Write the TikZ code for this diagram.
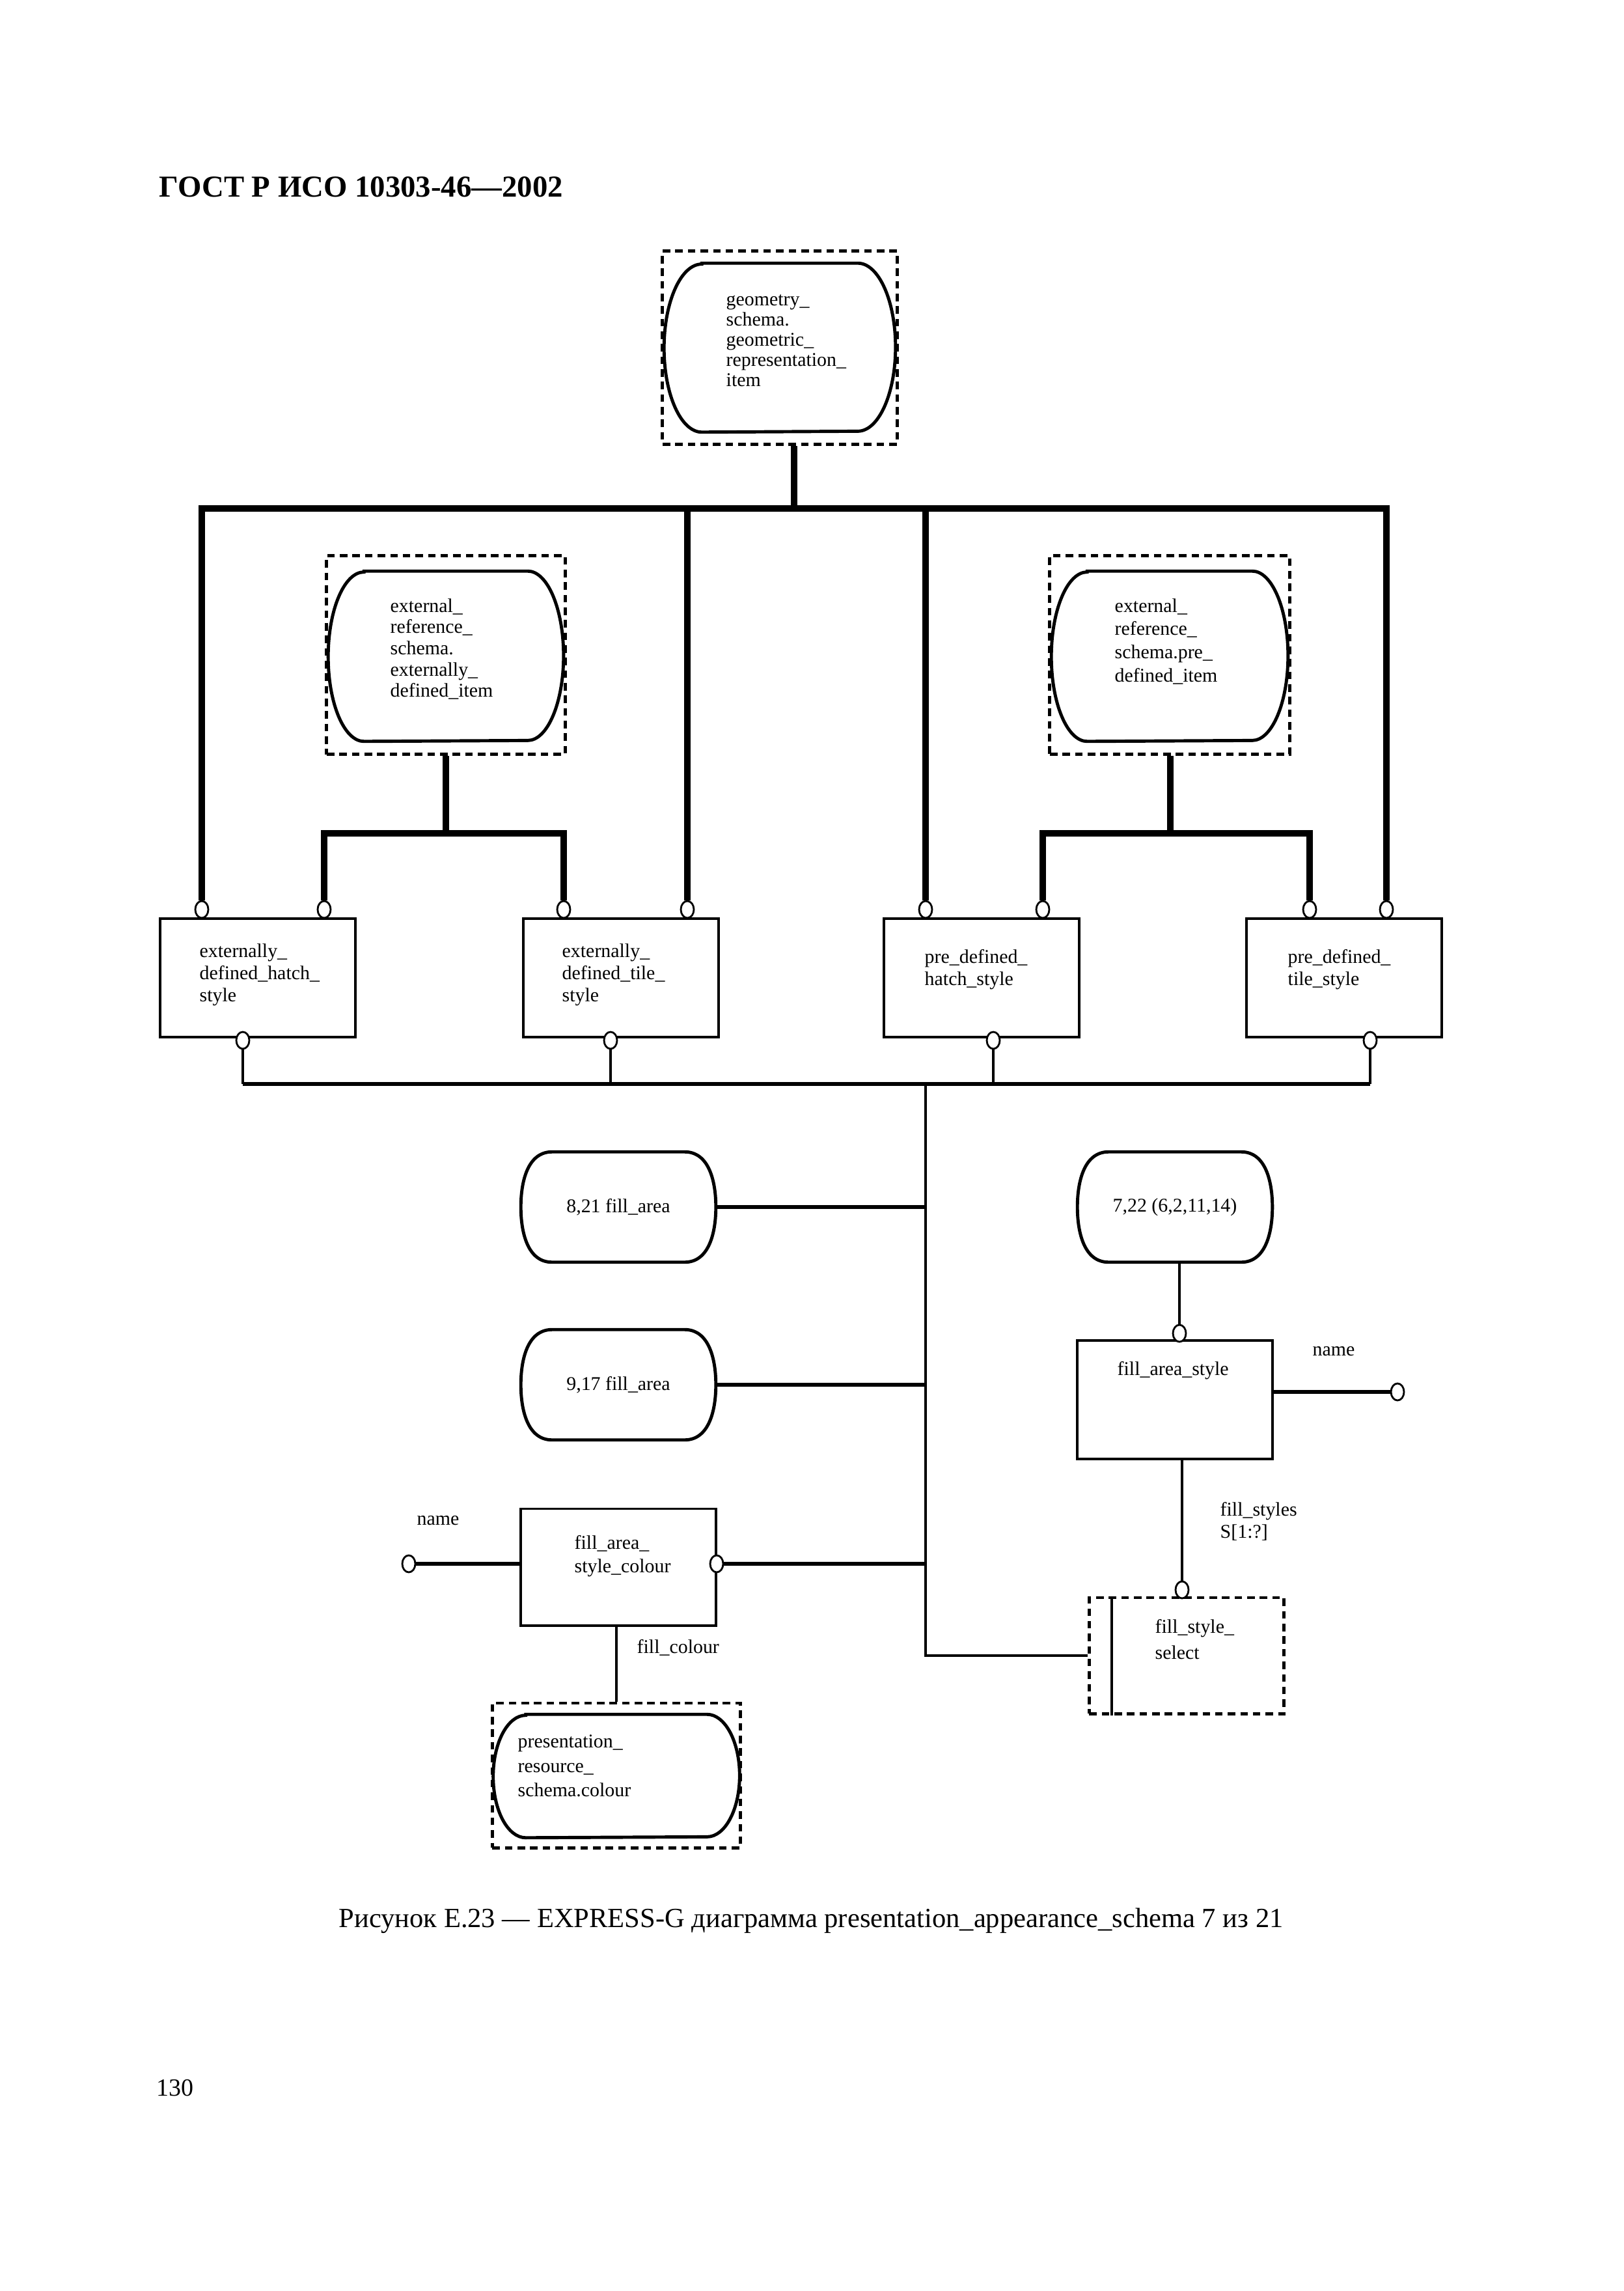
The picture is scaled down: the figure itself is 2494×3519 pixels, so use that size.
\documentclass[tikz,border=0pt]{standalone}
\usepackage{fontspec}
\setmainfont{Liberation Serif}
\usetikzlibrary{shapes,calc,positioning}

\begin{document}
\begin{tikzpicture}[x=0.01cm,y=-0.01cm]
\tikzstyle{ent}=[draw,line width=1.1pt,minimum width=3cm,minimum height=1.82cm,inner sep=0pt]
\tikzstyle{typ}=[inner sep=0pt,minimum width=2.98cm,minimum height=1.68cm,font=\fontsize{8.5}{9.7}\selectfont]
\tikzstyle{dsh}=[draw,line width=1.4pt,dash pattern=on 3.3pt off 2.2pt,inner sep=0pt]
\tikzstyle{rnd}=[line width=1.4pt]
\tikzstyle{lbl}=[inner sep=0pt,anchor=base west,font=\fontsize{8.5}{9.7}\selectfont]
\tikzstyle{txt}=[lbl,text width=3cm,align=left]
\tikzstyle{rel}=[draw,ellipse,line width=0.8pt,fill=white,minimum width=0.2cm,minimum height=0.26cm,inner sep=0pt]
\tikzstyle{bar}=[line width=2.8pt]
\tikzstyle{wire}=[line width=1.7pt]
\tikzstyle{stub}=[line width=1pt]
\fill[white] (0,0) rectangle (2494,3519);
\useasboundingbox (0,0) rectangle (2494,3519);

\node[lbl,font=\fontsize{13.3}{16}\selectfont\bfseries] (head) at (244,303) {ГОСТ Р ИСО 10303-46—2002};

% referenced types in dashed frames
\node[dsh,minimum width=3.6cm,minimum height=2.97cm] (geod) at (1198,534) {};
\node[typ,minimum width=3.54cm,minimum height=2.58cm] (geo) at (1198,534) {};
\node[txt,font=\fontsize{8.5}{8.8}\selectfont] (geot) at (1115,470) {geometry\_\\schema.\\geometric\_\\representation\_\\item};
\node[dsh,minimum width=3.66cm,minimum height=3.05cm] (xld) at (685,1006) {};
\node[typ,minimum width=3.6cm,minimum height=2.6cm] (xl) at (685,1008) {};
\node[txt,font=\fontsize{8.5}{9.3}\selectfont] (xlt) at (599,940) {external\_\\reference\_\\schema.\\externally\_\\defined\_item};
\node[dsh,minimum width=3.68cm,minimum height=3.05cm] (xrd) at (1797,1006) {};
\node[typ,minimum width=3.62cm,minimum height=2.6cm] (xr) at (1797,1008) {};
\node[txt,font=\fontsize{8.5}{10.2}\selectfont] (xrt) at (1712,940) {external\_\\reference\_\\schema.pre\_\\defined\_item};

% style entities
\node[ent] (b1) at (396,1502) {};
\node[txt] (b1t) at (306,1470) {externally\_\\defined\_hatch\_\\style};
\node[ent] (b2) at (954,1502) {};
\node[txt] (b2t) at (863,1470) {externally\_\\defined\_tile\_\\style};
\node[ent] (b3) at (1508,1502) {};
\node[txt] (b3t) at (1420,1479) {pre\_defined\_\\hatch\_style};
\node[ent] (b4) at (2065,1502) {};
\node[txt] (b4t) at (1978,1479) {pre\_defined\_\\tile\_style};

\node[rel] (c11) at (310,1397) {};
\node[rel] (c12) at (498,1397) {};
\node[rel] (c21) at (866,1397) {};
\node[rel] (c22) at (1056,1397) {};
\node[rel] (c31) at (1422,1397) {};
\node[rel] (c32) at (1602,1397) {};
\node[rel] (c41) at (2012,1397) {};
\node[rel] (c42) at (2130,1397) {};
\node[rel] (d1) at (373,1598) {};
\node[rel] (d2) at (938,1598) {};
\node[rel] (d3) at (1526,1598) {};
\node[rel] (d4) at (2105,1598) {};

\coordinate (gbar) at (1220,781);
\coordinate (xlbar) at (685,1280);
\coordinate (xrbar) at (1798,1280);
\coordinate (bus) at (1422,1665);

% page references
\node[typ] (fa1) at (950,1854) {8,21 fill\_area};
\node[typ] (fa2) at (950,2127) {9,17 fill\_area};
\node[typ] (ref) at (1805,1854) {7,22 (6,2,11,14)};

\node[ent] (fas) at (1805,2150) {};
\node[lbl] (fast) at (1716,2112) {fill\_area\_style};
\node[rel] (cf) at (1812,2048) {};
\node[rel] (nm2) at (2147,2138) {};
\node[lbl] (nm2t) at (2016,2082) {name};
\node[txt] (fst) at (1874,2328) {fill\_styles\\S[1:?]};
\node[dsh,minimum width=2.99cm,minimum height=1.78cm] (fss) at (1823,2543) {};
\node[txt,font=\fontsize{8.5}{11.4}\selectfont] (fsst) at (1774,2508) {fill\_style\_\\select};
\node[rel] (cs) at (1816,2442) {};

\node[ent,minimum height=1.79cm] (fasc) at (950,2407) {};
\node[txt,font=\fontsize{8.5}{10.5}\selectfont] (fasct) at (882,2379) {fill\_area\_\\style\_colour};
\node[rel] (nm1) at (628,2402) {};
\node[lbl] (nm1t) at (640,2342) {name};
\node[rel] (fc) at (1101,2402) {};
\node[lbl] (fct) at (978,2539) {fill\_colour};
\node[dsh,minimum width=3.81cm,minimum height=2.22cm] (prcd) at (947,2727) {};
\node[typ,minimum width=3.77cm,minimum height=1.88cm] (prc) at (947,2728) {};
\node[txt,font=\fontsize{8.5}{10.8}\selectfont] (prct) at (795,2684) {presentation\_\\resource\_\\schema.colour};

\foreach \n/\r/\h in {geo/0.58/1.29,xl/0.55/1.3,xr/0.55/1.3,prc/0.5/0.94}
  \draw[rnd] ([xshift=\r cm]\n.north west) -- ([xshift=-\r cm]\n.north east) arc[start angle=90,end angle=-90,x radius=\r cm,y radius=\h cm] -- ([xshift=\r cm]\n.south west) arc[start angle=270,end angle=90,x radius=\r cm,y radius=\h cm] -- cycle;
\foreach \n in {fa1,fa2,ref}
  \draw[rnd] ([shift={(48,0)}]\n.north west) -- ([shift={(-48,0)}]\n.north east) to[out=0,in=90] (\n.east) to[out=-90,in=0] ([shift={(-48,0)}]\n.south east) -- ([shift={(48,0)}]\n.south west) to[out=180,in=-90] (\n.west) to[out=90,in=180] cycle;
\draw[line width=1.1pt] ([shift={(37,0)}]fss.north west) -- ([shift={(37,0)}]fss.south west);

\draw[bar] (gbar |- geod.south) -- (gbar);
\draw[bar] (c11.north) |- (gbar) -| (c42.north);
\draw[bar] (c22.north) |- (gbar) -| (c31.north);
\draw[bar] (xlbar |- xld.south) -- (xlbar);
\draw[bar] (c12.north) |- (xlbar) -| (c21.north);
\draw[bar] (xrbar |- xrd.south) -- (xrbar);
\draw[bar] (c32.north) |- (xrbar) -| (c41.north);

\draw[wire] (d1.south |- bus) -- (d4.south |- bus);
\draw[stub] (d1.south) -- (d1.south |- bus);
\draw[stub] (d2.south) -- (d2.south |- bus);
\draw[stub] (d3.south) -- (d3.south |- bus);
\draw[stub] (d4.south) -- (d4.south |- bus);
\draw[stub] (bus) |- (fss.west);
\draw[wire] (fa1.east) -- (fa1.east -| bus);
\draw[wire] (fa2.east) -- (fa2.east -| bus);
\draw[wire] (fc.east) -- (fc.east -| bus);
\draw[wire] (nm1.east) -- (nm1.east -| fasc.west);
\draw[stub] (fasc.south -| prcd.north) -- (prcd.north);
\draw[stub] (cf.north |- ref.south) -- (cf.north);
\draw[wire] (fas.east |- nm2) -- (nm2.west);
\draw[stub] (cs.north |- fas.south) -- (cs.north);

\node[lbl,font=\fontsize{12.1}{15}\selectfont] (cap) at (520,2960) {Рисунок Е.23 — EXPRESS-G диаграмма presentation\_appearance\_schema 7 из 21};
\node[lbl,font=\fontsize{10.8}{13}\selectfont] (page) at (240,3219) {130};
\end{tikzpicture}
\end{document}
